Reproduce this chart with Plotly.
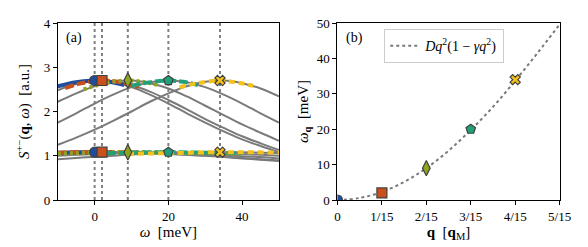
import plotly.graph_objects as go

# ---------------- data ----------------
omega_grid = [-10, -5, 0, 5, 10, 15, 20, 25, 30, 35, 40, 45, 50]
omega_q = [0, 2, 9, 20, 34]                    # meV
q_vals = [0, 1/15, 2/15, 3/15, 4/15]           # in q_M
peak_upper = [2.70, 2.70, 2.70, 2.70, 2.70]
peak_lower = [1.08, 1.08, 1.08, 1.08, 1.08]

upper_gray = [
    [2.55, 2.66, 2.70, 2.66, 2.55, 2.38, 2.18, 1.96, 1.75, 1.55, 1.37, 1.22, 1.08],
    [2.48, 2.62, 2.69, 2.69, 2.60, 2.45, 2.26, 2.05, 1.83, 1.63, 1.44, 1.28, 1.13],
    [2.22, 2.41, 2.57, 2.67, 2.70, 2.64, 2.52, 2.34, 2.13, 1.92, 1.71, 1.52, 1.34],
    [1.75, 1.96, 2.18, 2.38, 2.55, 2.66, 2.70, 2.66, 2.55, 2.38, 2.18, 1.96, 1.75],
    [1.25, 1.41, 1.59, 1.79, 2.00, 2.22, 2.41, 2.57, 2.67, 2.70, 2.64, 2.52, 2.34],
]
lower_gray = [
    [1.07, 1.08, 1.08, 1.08, 1.07, 1.06, 1.04, 1.02, 1.00, 0.97, 0.94, 0.91, 0.88],
    [1.07, 1.08, 1.08, 1.08, 1.07, 1.06, 1.05, 1.03, 1.01, 0.98, 0.95, 0.92, 0.89],
    [1.05, 1.06, 1.07, 1.08, 1.08, 1.08, 1.07, 1.06, 1.04, 1.02, 0.99, 0.97, 0.94],
    [1.00, 1.02, 1.04, 1.06, 1.07, 1.08, 1.08, 1.08, 1.07, 1.06, 1.04, 1.02, 1.00],
    [0.92, 0.95, 0.98, 1.00, 1.03, 1.05, 1.06, 1.07, 1.08, 1.08, 1.08, 1.07, 1.06],
]

# coloured (fitted) segments near each peak
upper_seg_x = [
    [-10, -5, 0, 4, 8],
    [-8, -4, 2, 7, 12],
    [-3, 1, 5, 9, 13, 17],
    [10, 14, 20, 24, 28],
    [23, 28, 34, 39, 43],
]
upper_seg_y = [
    [2.57, 2.66, 2.70, 2.67, 2.60],
    [2.53, 2.63, 2.70, 2.66, 2.55],
    [2.50, 2.60, 2.67, 2.70, 2.67, 2.60],
    [2.58, 2.65, 2.70, 2.67, 2.60],
    [2.55, 2.64, 2.70, 2.65, 2.58],
]
lower_seg_x = [
    [-10, -5, 0, 5],
    [-10, -4, 2, 8, 14],
    [-10, 0, 9, 18, 28, 40],
    [0, 10, 20, 30, 40],
    [9, 20, 34, 42, 50],
]
lower_seg_y = [
    [1.07, 1.08, 1.08, 1.08],
    [1.07, 1.08, 1.08, 1.08, 1.07],
    [1.05, 1.07, 1.08, 1.07, 1.06, 1.05],
    [1.05, 1.07, 1.08, 1.07, 1.06],
    [1.04, 1.06, 1.08, 1.08, 1.07],
]

# fit curve D q^2 (1 - gamma q^2)
fit_q = [0, 0.5/15, 1/15, 1.5/15, 2/15, 2.5/15, 3/15, 3.5/15, 4/15, 4.5/15, 5/15]
fit_w = [0, 0.58, 2.29, 5.1, 9.0, 13.9, 19.8, 26.3, 33.7, 41.5, 49.6]

q_ticks = [0, 1/15, 2/15, 3/15, 4/15, 5/15]
q_ticklabels = ["0", "1/15", "2/15", "3/15", "4/15", "5/15"]

colors = ["#1f4e9e", "#c9501c", "#8ea51f", "#22a07a", "#f5c11b"]
symbols = ["circle", "square", "diamond-tall", "pentagon", "x"]
dashes = ["solid", "9px,3px", "3px,3px", "9px,3px", "6px,4px"]
marker_sizes = [10, 10, 11, 10, 9]

FONT = "Liberation Serif"
GRAY = "#7a7a7a"

fig = go.Figure()

# vertical dotted guides
for w in omega_q:
    fig.add_trace(go.Scatter(x=[w, w], y=[0, 4], mode="lines",
                             line=dict(color="#808080", width=2, dash="dot"),
                             showlegend=False, hoverinfo="skip",
                             xaxis="x", yaxis="y"))

# gray curves
for ys in upper_gray + lower_gray:
    fig.add_trace(go.Scatter(x=omega_grid, y=ys, mode="lines",
                             line=dict(color=GRAY, width=2, shape="spline"),
                             showlegend=False, xaxis="x", yaxis="y"))

# coloured segments
for i in range(5):
    for sx, sy in ((lower_seg_x[i], lower_seg_y[i]), (upper_seg_x[i], upper_seg_y[i])):
        fig.add_trace(go.Scatter(x=sx, y=sy, mode="lines",
                                 line=dict(color=colors[i], width=4, dash=dashes[i],
                                           shape="spline"),
                                 showlegend=False, xaxis="x", yaxis="y"))

# markers panel (a)
for i in range(5):
    fig.add_trace(go.Scatter(x=[omega_q[i], omega_q[i]], y=[peak_upper[i], peak_lower[i]],
                             mode="markers",
                             marker=dict(symbol=symbols[i], color=colors[i], size=marker_sizes[i],
                                         line=dict(color="#404040", width=1.2)),
                             showlegend=False, xaxis="x", yaxis="y"))

# panel (b)
fig.add_trace(go.Scatter(x=fit_q, y=fit_w, mode="lines",
                         line=dict(color=GRAY, width=2, dash="dot", shape="spline"),
                         name="<i>Dq</i><sup>2</sup>(1 − <i>γq</i><sup>2</sup>)",
                         showlegend=True, xaxis="x2", yaxis="y2"))
for i in range(5):
    fig.add_trace(go.Scatter(x=[q_vals[i]], y=[omega_q[i]], mode="markers",
                             marker=dict(symbol=symbols[i], color=colors[i], size=marker_sizes[i],
                                         line=dict(color="#404040", width=1.2)),
                             showlegend=False, xaxis="x2", yaxis="y2"))

axis_common = dict(showline=True, mirror=True, linecolor="black", linewidth=1,
                   ticks="outside", ticklen=4, tickwidth=1, tickcolor="black",
                   showgrid=False, zeroline=False,
                   tickfont=dict(family=FONT, size=13, color="black"))

fig.update_layout(
    width=588, height=247,
    margin=dict(l=0, r=0, t=15, b=55),
    paper_bgcolor="white", plot_bgcolor="white",
    font=dict(family=FONT, size=13, color="black"),
    xaxis=dict(domain=[48/588, 275/588], range=[-10, 50], tickvals=[0, 20, 40],
               title=dict(text="<i>ω</i>  [meV]", font=dict(family=FONT, size=15), standoff=3),
               anchor="y", **axis_common),
    yaxis=dict(domain=[0, 1], range=[0, 4], tickvals=[0, 1, 2, 3, 4],
               title=dict(text="<i>S</i><sup>+−</sup>(<b>q</b>, <i>ω</i>)  [a.u.]",
                          font=dict(family=FONT, size=15), standoff=10),
               anchor="x", **axis_common),
    xaxis2=dict(domain=[335/588, 563/588], range=[0, 1/3], tickvals=q_ticks,
                ticktext=q_ticklabels,
                title=dict(text="<b>q</b>  [<b>q</b><sub>M</sub>]", font=dict(family=FONT, size=15),
                           standoff=3),
                anchor="y2", **axis_common),
    yaxis2=dict(domain=[0, 1], range=[0, 50], tickvals=[0, 10, 20, 30, 40, 50],
                title=dict(text="<i>ω</i><sub><b>q</b></sub>  [meV]", font=dict(family=FONT, size=15),
                           standoff=4),
                anchor="x2", **axis_common),
    legend=dict(x=383/588, y=0.965, xanchor="left", yanchor="top",
                bgcolor="white", bordercolor="#cccccc", borderwidth=1,
                font=dict(family=FONT, size=14)),
    annotations=[
        dict(text="(a)", xref="x domain", yref="y domain", x=0.03, y=0.97,
             xanchor="left", yanchor="top", showarrow=False, font=dict(family=FONT, size=14)),
        dict(text="(b)", xref="x2 domain", yref="y2 domain", x=0.03, y=0.97,
             xanchor="left", yanchor="top", showarrow=False, font=dict(family=FONT, size=14)),
    ],
)

fig.write_html("out.html")
